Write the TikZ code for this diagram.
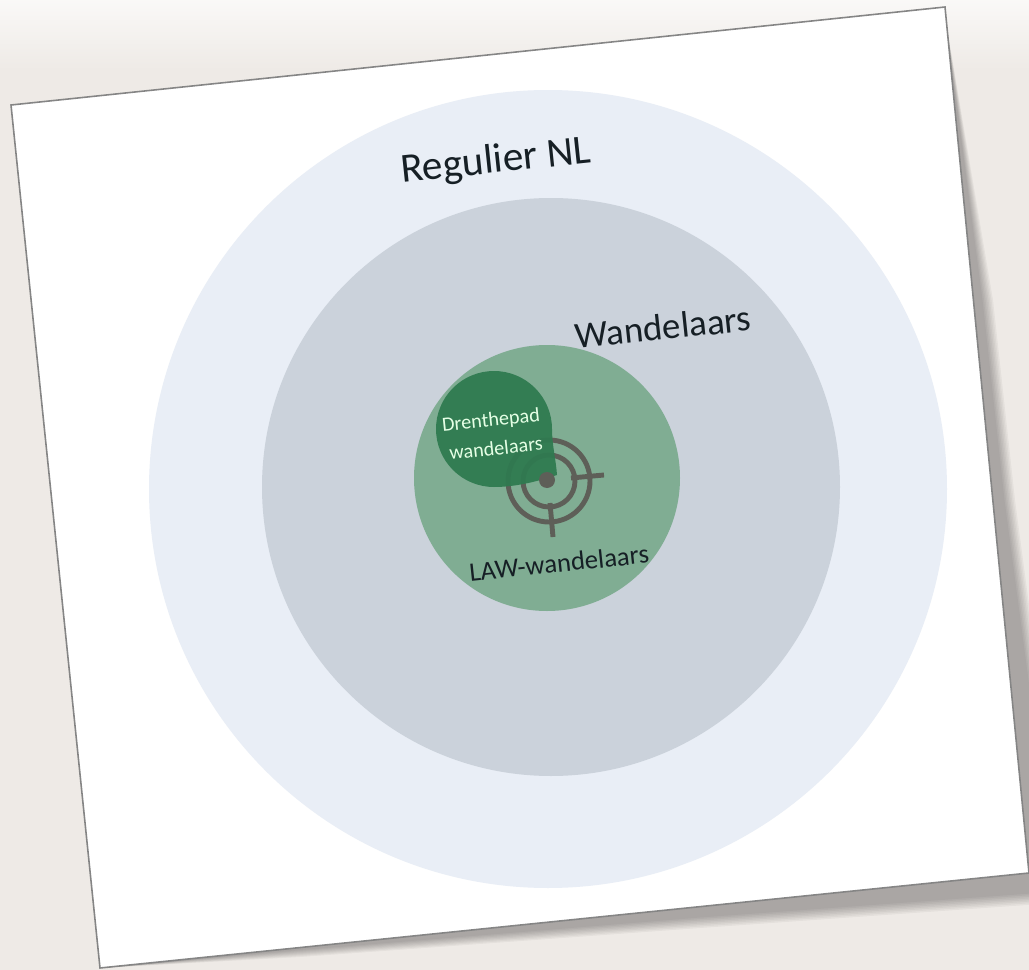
\documentclass[tikz,border=0pt]{standalone}
\usepackage{fontspec}
\setmainfont{Carlito}
\usetikzlibrary{calc}

\definecolor{wallbg}{HTML}{EEEAE6}
\definecolor{regcol}{HTML}{E9EEF6}
\definecolor{wandcol}{HTML}{CBD2DB}
\definecolor{lawcol}{HTML}{80AD93}
\definecolor{drentcol}{HTML}{2F7A50}
\definecolor{aimcol}{HTML}{5E5F58}
\definecolor{inkcol}{HTML}{161F25}

\begin{document}
\begin{tikzpicture}[
    x=0.02cm, y=-0.02cm,
    % shapes
    disc/.style={draw=none},
    sheet/.style={fill=white, draw=black!48, line width=0.9pt},
    aim/.style={draw=aimcol, line width=2.8pt},
    % labels
    lab/.style={inner sep=0pt, rotate=6, text=inkcol},
    lablarge/.style={lab, font=\fontsize{23.5}{24}\selectfont},
    labmid/.style={lab, font=\fontsize{21}{21}\selectfont},
    labsmall/.style={lab, font=\fontsize{11.5}{11.5}\selectfont, text=white!90!green}
  ]

  \useasboundingbox (0,0) rectangle (1029,970);

  % wall behind the sheet
  \fill[wallbg] (0,0) rectangle (1029,970);
  \shade[top color=white!70!wallbg, bottom color=wallbg] (0,0) rectangle (1029,70);

  % soft shadow, stacked
  \foreach \s in {0,...,7} {
    \fill[black, opacity=0.04]
      (100,968) -- (945,16) -- ({993-\s*1.5},300) -- ({1015-\s*1.5},500) -- ({1055-\s*1.5},800)
      -- ({1055-\s*1.5},{903-\s*1.5}) -- (700,{928-\s*1.5}) -- (300,{957-\s}) -- cycle;
  }

  % corners
  \coordinate (tl) at (11,105);
  \coordinate (tr) at (945,7);
  \coordinate (br) at (1029,873);
  \coordinate (bl) at (100,968);
  \draw[sheet] (tl) -- (tr) -- (br) -- (bl) -- cycle;

  % nested circles
  \fill[disc, regcol]  (548,489) circle [radius=399];
  \fill[disc, wandcol] (551,487) circle [radius=289];
  \fill[disc, lawcol]  (547,478) circle [radius=133];

  % target
  \draw[aim] (549,481) circle [radius=41];
  \draw[aim] (549,481) circle [radius=26];
  \coordinate (aimR1) at (571,478);
  \coordinate (aimR2) at (604,475);
  \coordinate (aimB1) at (550,503);
  \coordinate (aimB2) at (553,537);
  \draw[aim] (aimR1) -- (aimR2);
  \draw[aim] (aimB1) -- (aimB2);

  % drop shape over the target
  \fill[drentcol, opacity=0.94] (557,475)
    .. controls (530,484) and (510,487) .. (494,487)
    arc [start angle=90, end angle=270, radius=58]
    arc [start angle=270, end angle=360, radius=58]
    .. controls (552,445) and (556,460) .. (557,475) -- cycle;
  \fill[aimcol] (547,480) circle [radius=8];

  % labels
  \node (reg)   [lablarge] at (496,162) {Regulier NL};
  \node (wand)  [labmid] at (663,327) {Wandelaars};
  \node (law)   [lab, font=\fontsize{15.2}{16}\selectfont] at (559,563) {LAW-wandelaars};
  \node (drent) [labsmall] at (491,421) {Drenthepad};
  \node (drwan) [labsmall] at (496,448) {wandelaars};
\end{tikzpicture}
\end{document}
